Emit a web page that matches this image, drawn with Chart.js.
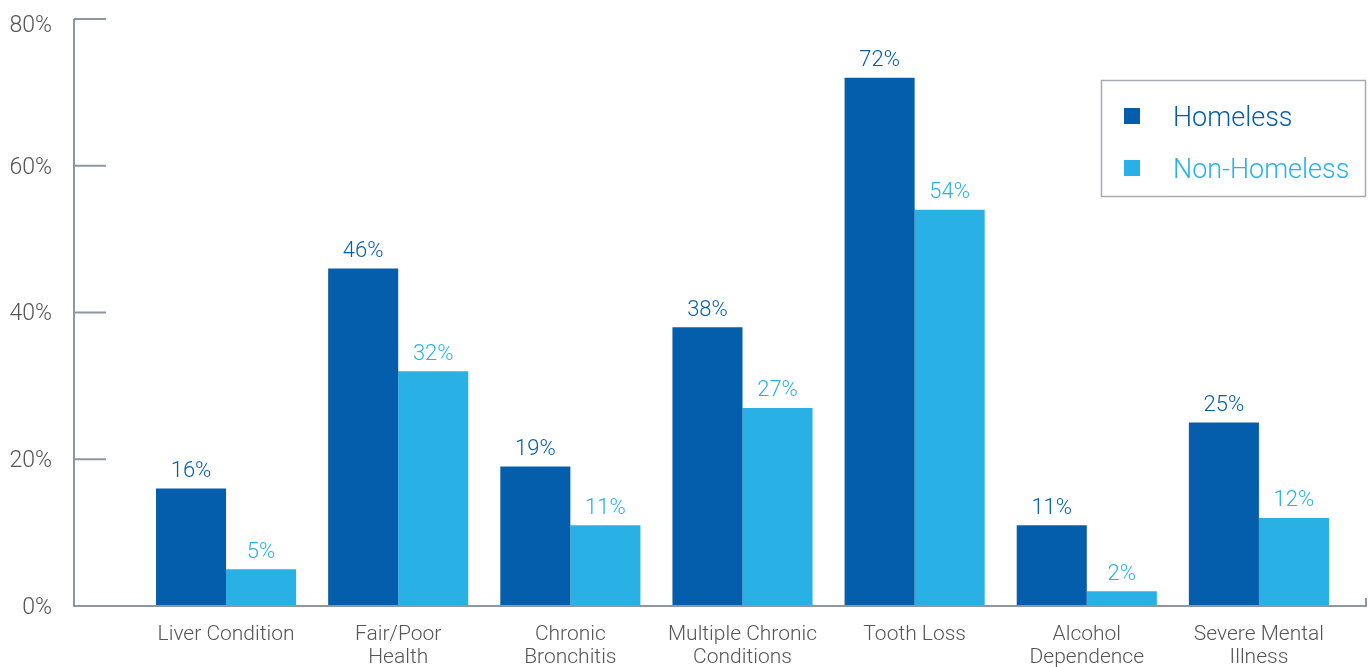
<!DOCTYPE html>
<html>
<head>
<meta charset="utf-8">
<script src="https://cdn.jsdelivr.net/npm/chart.js@4"></script>
<style>
  html, body { margin: 0; padding: 0; background: #fff; }
  #wrap { width: 1370px; height: 667px; }
</style>
</head>
<body>
<div id="wrap"><canvas id="healthChart"></canvas></div>
<script>
const categories = [
  ['Liver Condition'],
  ['Fair/Poor', 'Health'],
  ['Chronic', 'Bronchitis'],
  ['Multiple Chronic', 'Conditions'],
  ['Tooth Loss'],
  ['Alcohol', 'Dependence'],
  ['Severe Mental', 'Illness']
];
const homeless = [16, 46, 19, 38, 72, 11, 25];
const nonHomeless = [5, 32, 11, 27, 54, 2, 12];
const yTicks = [0, 20, 40, 60, 80];

const darkBlue = '#045EAB';
const lightBlue = '#29B1E6';
const axisGray = '#8D97A1';
const textGray = '#555555';
const fontFamily = 'Roboto, "Liberation Sans", sans-serif';

// axis lines, inward ticks, tick labels, value labels and boxed legend
const decorations = {
  id: 'decorations',
  afterDatasetsDraw(chart) {
    const ctx = chart.ctx;
    const y = chart.scales.y;
    const area = chart.chartArea;
    const axisX = 74;
    ctx.save();
    ctx.strokeStyle = axisGray;
    ctx.lineWidth = 2;
    ctx.beginPath();
    ctx.moveTo(axisX, y.getPixelForValue(80));
    ctx.lineTo(axisX, area.bottom);
    ctx.lineTo(1366, area.bottom);
    ctx.lineTo(1366, area.bottom - 8);
    y.ticks.forEach(t => {
      if (t.value === 0) return;
      const py = y.getPixelForValue(t.value);
      ctx.moveTo(axisX, py);
      ctx.lineTo(axisX + 32, py);
    });
    ctx.stroke();

    // y tick labels
    ctx.fillStyle = textGray;
    ctx.font = '300 23px ' + fontFamily;
    ctx.textAlign = 'right';
    ctx.textBaseline = 'middle';
    y.ticks.forEach(t => {
      const py = y.getPixelForValue(t.value);
      ctx.fillText(t.value + '%', 52, t.value === 80 ? py + 7 : py + 2);
    });

    // value labels
    ctx.font = '300 22px ' + fontFamily;
    ctx.textAlign = 'center';
    chart.data.datasets.forEach((ds, i) => {
      ctx.fillStyle = ds.backgroundColor;
      chart.getDatasetMeta(i).data.forEach((bar, j) => {
        ctx.fillText(ds.data[j] + '%', bar.x, bar.y - 17);
      });
    });

    // legend
    ctx.lineWidth = 1.5;
    ctx.strokeStyle = '#A4ABB3';
    ctx.strokeRect(1101.5, 80.5, 264, 116);
    ctx.font = '300 27px ' + fontFamily;
    ctx.textAlign = 'left';
    chart.data.datasets.forEach((ds, i) => {
      const cy = 116 + i * 52;
      ctx.fillStyle = ds.backgroundColor;
      ctx.fillRect(1124, cy - 8, 16, 16);
      ctx.fillText(ds.label, 1173, cy + 3);
    });
    ctx.restore();
  }
};

new Chart(document.getElementById('healthChart'), {
  type: 'bar',
  data: {
    labels: categories,
    datasets: [
      { label: 'Homeless', data: homeless, backgroundColor: darkBlue },
      { label: 'Non-Homeless', data: nonHomeless, backgroundColor: lightBlue }
    ]
  },
  options: {
    responsive: true,
    maintainAspectRatio: false,
    animation: false,
    layout: { padding: { top: 19, right: 25, left: 0, bottom: 0 } },
    datasets: { bar: { barPercentage: 1, categoryPercentage: 0.814 } },
    plugins: {
      legend: { display: false },
      tooltip: { enabled: false }
    },
    scales: {
      x: {
        grid: { display: false },
        border: { display: false },
        ticks: {
          color: textGray,
          font: { family: fontFamily, size: 21, weight: '300', lineHeight: 1.1 },
          padding: 9,
          maxRotation: 0,
          autoSkip: false
        },
        afterFit(scale) { scale.height = 61; }
      },
      y: {
        min: 0,
        max: 80,
        afterBuildTicks(scale) { scale.ticks = yTicks.map(v => ({ value: v })); },
        grid: { display: false, drawTicks: false },
        border: { display: false },
        ticks: { display: false },
        afterFit(scale) { scale.width = 140; }
      }
    }
  },
  plugins: [decorations]
});
</script>
</body>
</html>
